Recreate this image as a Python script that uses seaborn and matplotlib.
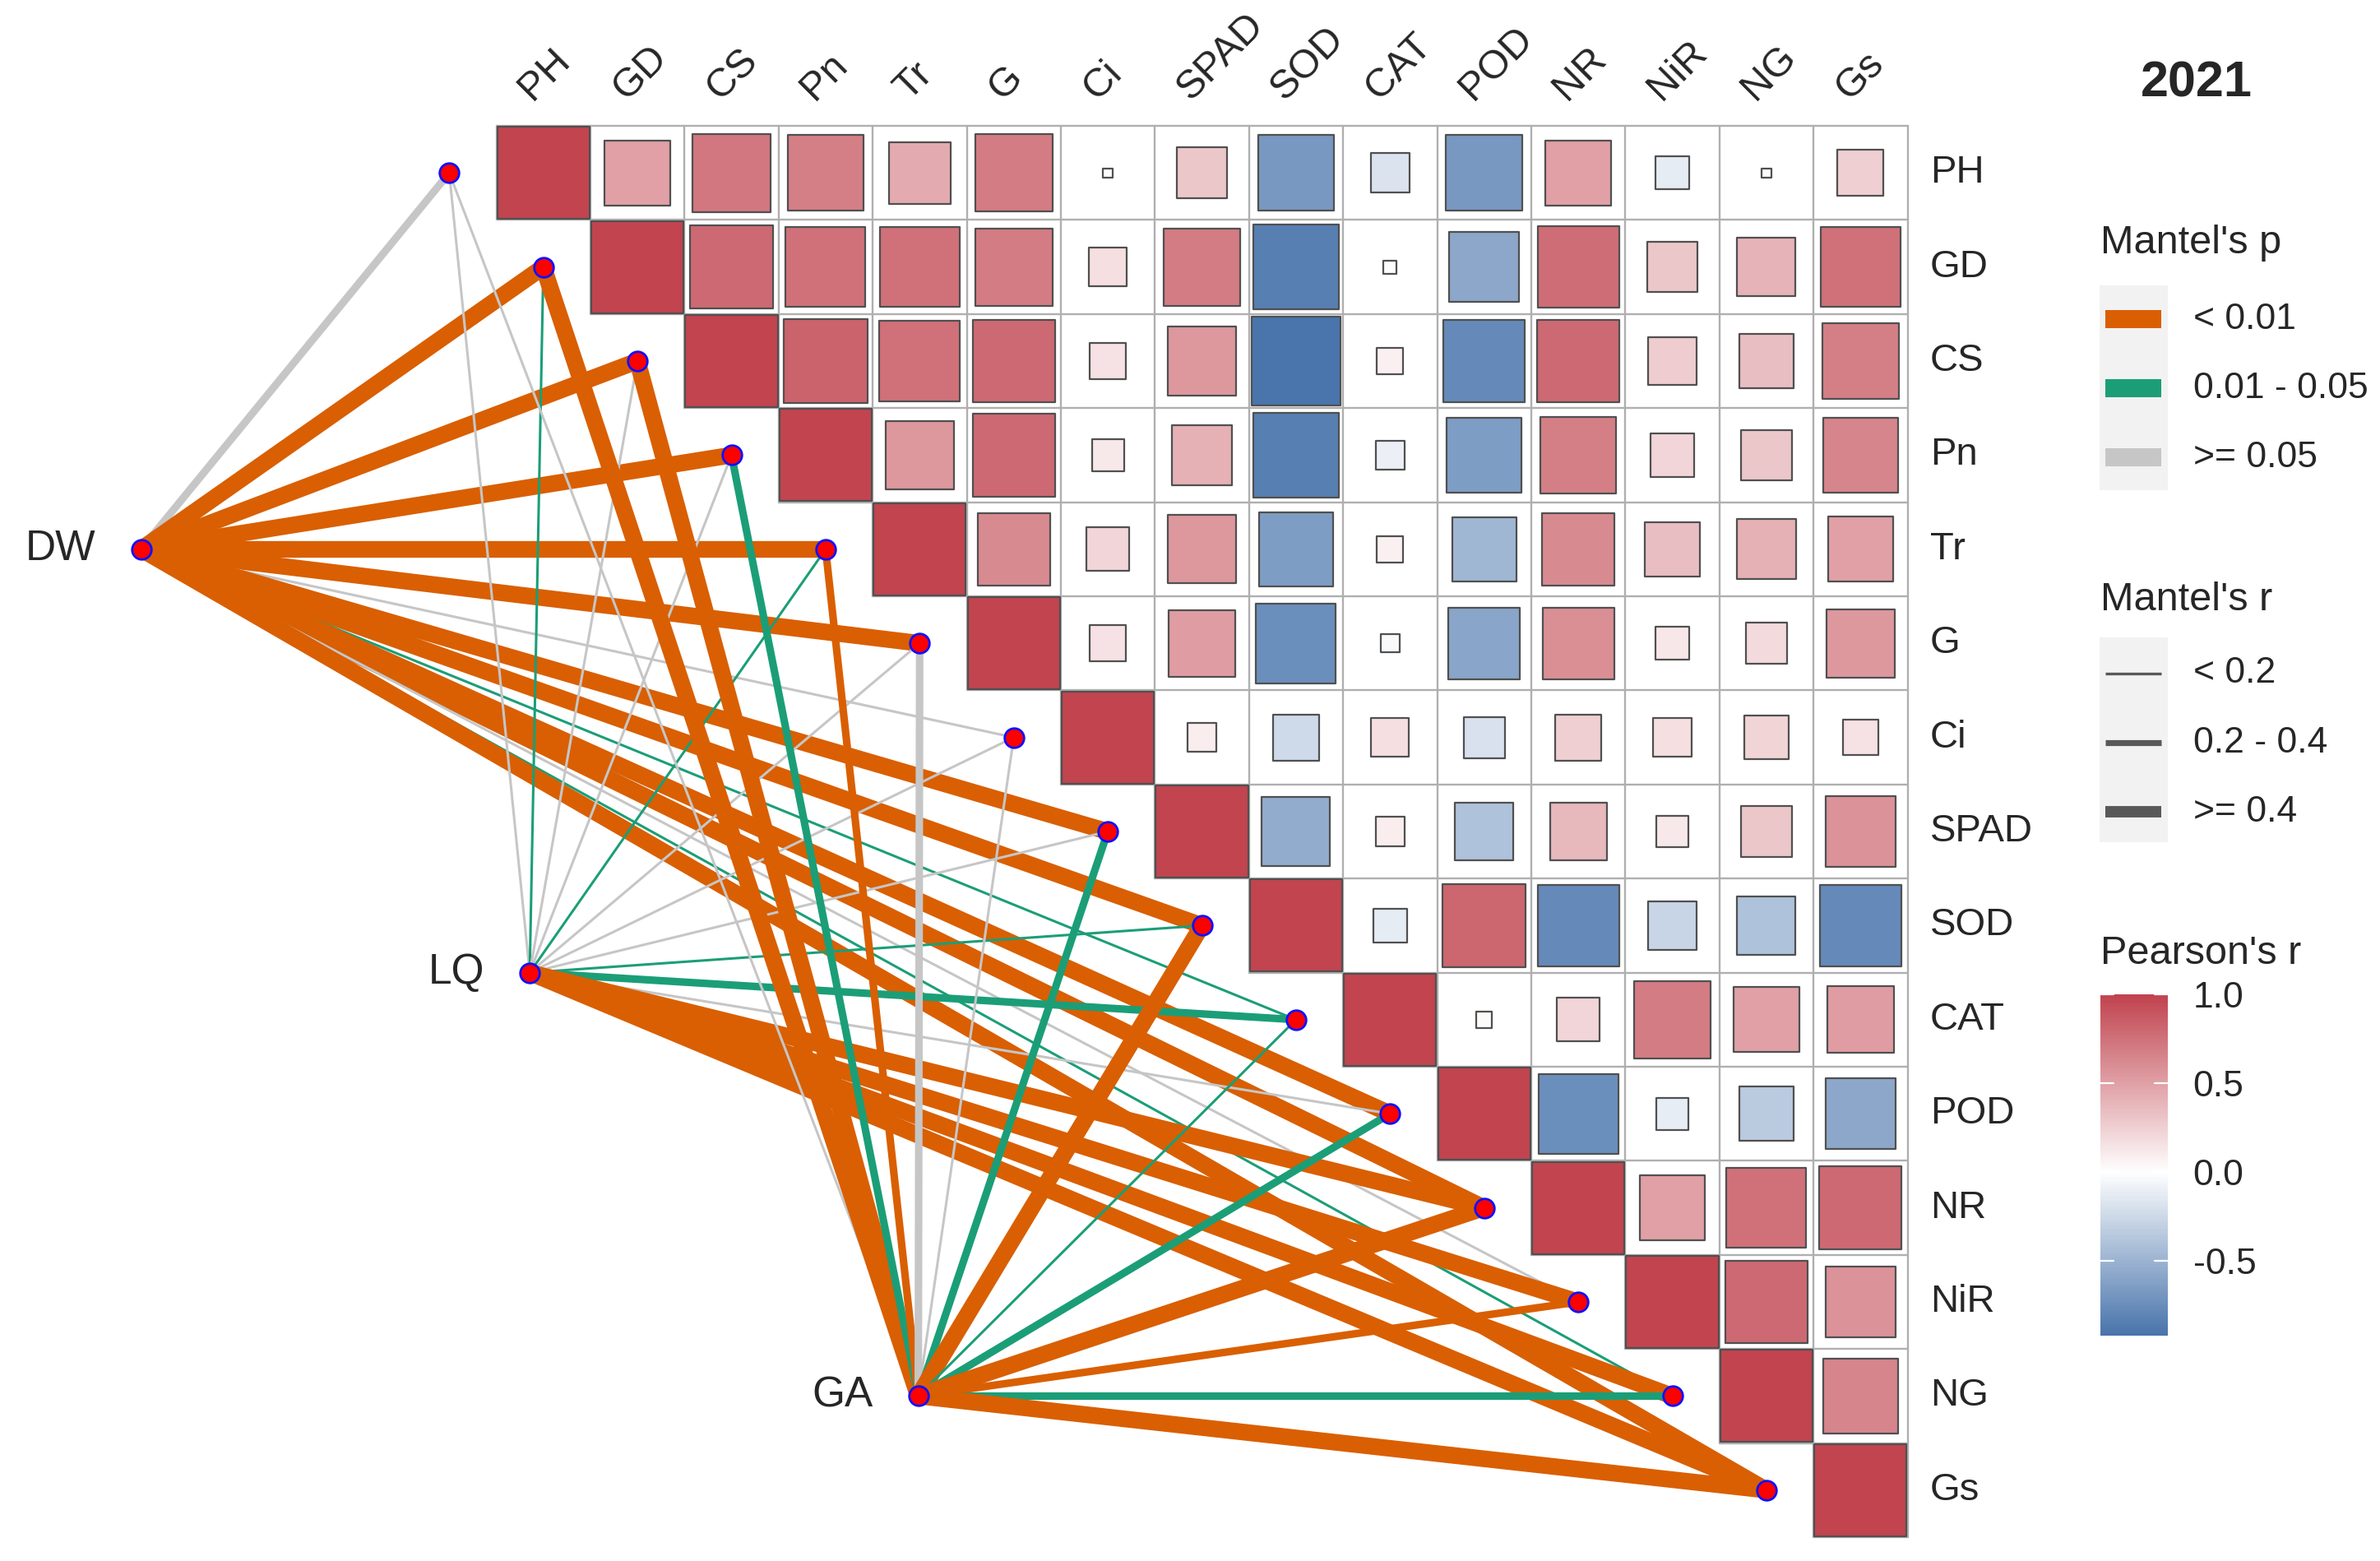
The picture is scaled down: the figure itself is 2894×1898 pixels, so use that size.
import numpy as np
import pandas as pd
import matplotlib
matplotlib.use("Agg")
import matplotlib.pyplot as plt
import seaborn as sns
from matplotlib.colors import LinearSegmentedColormap, Normalize
from matplotlib.patches import Rectangle

# ---------------- data ----------------
variables = ["PH", "GD", "CS", "Pn", "Tr", "G", "Ci", "SPAD", "SOD", "CAT",
             "POD", "NR", "NiR", "NG", "Gs"]

# Pearson's r, upper triangle, each row from the cell right of the diagonal
r_PH = [0.50, 0.72, 0.68, 0.45, 0.70, 0.01, 0.30, -0.68, -0.18, -0.68, 0.50, -0.13, 0.01, 0.25]
r_GD = [0.80, 0.75, 0.75, 0.70, 0.17, 0.70, -0.85, 0.02, -0.58, 0.78, 0.30, 0.40, 0.75]
r_CS = [0.83, 0.76, 0.80, 0.15, 0.55, -0.92, 0.08, -0.78, 0.80, 0.27, 0.35, 0.68]
r_Pn = [0.55, 0.80, 0.12, 0.42, -0.85, -0.10, -0.65, 0.68, 0.22, 0.30, 0.65]
r_Tr = [0.62, 0.22, 0.55, -0.65, 0.08, -0.48, 0.62, 0.35, 0.42, 0.50]
r_G = [0.15, 0.52, -0.75, -0.04, -0.60, 0.60, 0.13, 0.20, 0.55]
r_Ci = [0.10, -0.25, 0.17, -0.20, 0.25, 0.17, 0.23, 0.15]
r_SPAD = [-0.55, 0.10, -0.40, 0.38, 0.12, 0.30, 0.58]
r_SOD = [-0.13, 0.82, -0.78, -0.28, -0.40, -0.78]
r_CAT = [0.03, 0.22, 0.70, 0.50, 0.52]
r_POD = [-0.75, -0.12, -0.35, -0.58]
r_NR = [0.50, 0.75, 0.80]
r_NiR = [0.80, 0.58]
r_NG = [0.65]
pearson_rows = [r_PH, r_GD, r_CS, r_Pn, r_Tr, r_G, r_Ci, r_SPAD, r_SOD, r_CAT,
                r_POD, r_NR, r_NiR, r_NG, []]

sources = ["DW", "LQ", "GA"]
p_DW = [">=0.05", "<0.01", "<0.01", "<0.01", "<0.01", "<0.01", ">=0.05", "<0.01", "<0.01",
        "0.01-0.05", "<0.01", "<0.01", ">=0.05", "0.01-0.05", "<0.01"]
rr_DW = ["0.2-0.4", ">=0.4", ">=0.4", ">=0.4", ">=0.4", ">=0.4", "<0.2", ">=0.4", ">=0.4",
         "<0.2", ">=0.4", ">=0.4", "<0.2", "<0.2", ">=0.4"]
p_LQ = [">=0.05", "0.01-0.05", ">=0.05", ">=0.05", "0.01-0.05", ">=0.05", ">=0.05", ">=0.05",
        "0.01-0.05", "0.01-0.05", ">=0.05", "<0.01", "<0.01", "<0.01", "<0.01"]
rr_LQ = ["<0.2", "<0.2", "<0.2", "<0.2", "<0.2", "<0.2", "<0.2", "<0.2", "<0.2",
         "0.2-0.4", "<0.2", ">=0.4", ">=0.4", ">=0.4", ">=0.4"]
p_GA = [">=0.05", "<0.01", "<0.01", "0.01-0.05", "<0.01", ">=0.05", ">=0.05", "0.01-0.05",
        "<0.01", "0.01-0.05", "0.01-0.05", "<0.01", "<0.01", "0.01-0.05", "<0.01"]
rr_GA = ["<0.2", ">=0.4", ">=0.4", "0.2-0.4", "0.2-0.4", "0.2-0.4", "<0.2", "0.2-0.4",
         ">=0.4", "<0.2", "0.2-0.4", ">=0.4", "0.2-0.4", "0.2-0.4", ">=0.4"]
mantel_p = [p_DW, p_LQ, p_GA]
mantel_r = [rr_DW, rr_LQ, rr_GA]

p_levels = ["<0.01", "0.01-0.05", ">=0.05"]
p_labels = ["< 0.01", "0.01 - 0.05", ">= 0.05"]
r_levels = ["<0.2", "0.2-0.4", ">=0.4"]
r_labels = ["< 0.2", "0.2 - 0.4", ">= 0.4"]
cbar_ticks = [1.0, 0.5, 0.0, -0.5]
title_text = "2021"

# ---------------- style ----------------
sns.set_theme(style="white")
plt.rcParams['font.family'] = ['Liberation Sans', 'DejaVu Sans']

p_colors = {"<0.01": "#D95F02", "0.01-0.05": "#1B9E77", ">=0.05": "#C6C6C6"}
r_widths = {"<0.2": 1.1, "0.2-0.4": 3.3, ">=0.4": 7.3}
legend_r_widths = {"<0.2": 1.2, "0.2-0.4": 2.6, ">=0.4": 5.0}
cmap = LinearSegmentedColormap.from_list("rb", ["#3A69A5", "#FFFFFF", "#C1444F"])
norm = Normalize(-1, 1)

W, H, DPI = 2894, 1898, 200
fig = plt.figure(figsize=(W / DPI, H / DPI), dpi=DPI)
CELL = 114.4
X0, Y0 = 660.7, 210.2
CELL_PT = CELL * 72 / DPI
ax = fig.add_axes([0, 0, 1, 1])

n = len(variables)

# cell table
rows = []
for i in range(n):
    for j in range(i, n):
        val = 1.0 if i == j else pearson_rows[i][j - i - 1]
        rows.append({"row": i, "col": j, "r": val, "absr": abs(val)})
cells = pd.DataFrame(rows)

# grid
grid_col = "#AFAFAF"
for k in range(n + 1):
    y = k - 0.5
    xs = max(k - 1, 0) - 0.5
    ax.plot([xs, n - 0.5], [y, y], color=grid_col, lw=0.85, zorder=1)
for j in range(n + 1):
    x = j - 0.5
    ax.plot([x, x], [-0.5, min(j, n - 1) + 0.5], color=grid_col, lw=0.85, zorder=1)

sns.scatterplot(data=cells, x="col", y="row", hue="r", hue_norm=norm, palette=cmap,
                size="absr", size_norm=(0, 1), sizes=(0, (CELL_PT - 0.8) ** 2),
                marker="s", edgecolor="#505050", linewidth=0.8, legend=False,
                ax=ax, zorder=3)

# mantel links
src_pos = [(-4.275 + 4.13 * k, 4.0 + 4.5 * k) for k in range(len(sources))]
z = 5
for k, (sx, sy) in enumerate(src_pos):
    for i in range(n):
        tx, ty = i - 1, i
        ax.plot([sx, tx], [sy, ty], color=p_colors[mantel_p[k][i]],
                lw=r_widths[mantel_r[k][i]], solid_capstyle="butt", zorder=z)
        z += 0.01

# nodes
for i in range(n):
    ax.plot(i - 1, i, "o", ms=8.5, mfc="#FF0000", mec="#1010FF", mew=1.0, zorder=50)
for k, (sx, sy) in enumerate(src_pos):
    ax.plot(sx, sy, "o", ms=8.5, mfc="#FF0000", mec="#1010FF", mew=1.0, zorder=50)
    ax.text(sx - 0.48, sy, sources[k], ha="right", va="center", fontsize=18.5, zorder=51)

# labels
for j, v in enumerate(variables):
    ax.text(j - 0.12, -0.76, v, rotation=45, rotation_mode="anchor", ha="left",
            va="baseline", fontsize=17.5)
    ax.text(n - 0.5 + 0.24, j, v, ha="left", va="center", fontsize=17)

ax.set_xlim(-X0 / CELL, (W - X0) / CELL)
ax.set_ylim((H - Y0) / CELL, -Y0 / CELL)
ax.axis("off")

# ---------------- legends ----------------
lax = fig.add_axes([0, 0, 1, 1], facecolor="none")
lax.set_xlim(0, W)
lax.set_ylim(H, 0)
lax.axis("off")

lax.text(2671, 102, title_text, ha="center", va="center", fontsize=22, fontweight="bold")

lax.text(2554, 295, "Mantel's p", ha="left", va="center", fontsize=17.5)
lax.add_patch(Rectangle((2553, 347), 83, 249, color="#F2F2F2", lw=0))
for idx, (lev, lab) in enumerate(zip(p_levels, p_labels)):
    yy = 388 + 84 * idx
    lax.add_patch(Rectangle((2560, yy - 11), 68, 22, color=p_colors[lev], lw=0))
    lax.text(2667, yy, lab, ha="left", va="center", fontsize=16)

lax.text(2554, 729, "Mantel's r", ha="left", va="center", fontsize=17.5)
lax.add_patch(Rectangle((2553, 775), 83, 249, color="#F2F2F2", lw=0))
for idx, (lev, lab) in enumerate(zip(r_levels, r_labels)):
    yy = 819 + 84 * idx
    lax.plot([2560, 2628], [yy, yy], color="#595959", lw=legend_r_widths[lev],
             solid_capstyle="butt")
    lax.text(2667, yy, lab, ha="left", va="center", fontsize=16)

lax.text(2554, 1159, "Pearson's r", ha="left", va="center", fontsize=17.5)

vmin = cells["r"].min()
vmax = cells["r"].max()
cax = fig.add_axes([2554 / W, 1 - 1624 / H, 82 / W, (1624 - 1209) / H])
grad = np.linspace(vmax, vmin, 300)[:, None]
cax.imshow(grad, cmap=cmap, norm=norm, aspect="auto", extent=[0, 1, vmin, vmax])
cax.set_xlim(0, 1)
cax.set_ylim(vmin, vmax)
for t in cbar_ticks:
    cax.plot([0, 0.2], [t, t], color="white", lw=0.8)
    cax.plot([0.8, 1], [t, t], color="white", lw=0.8)
cax.set_xticks([])
cax.set_yticks(cbar_ticks)
cax.set_yticklabels([f"{t:.1f}" for t in cbar_ticks])
cax.yaxis.tick_right()
cax.tick_params(axis="y", length=0, pad=11, labelsize=16)
for s in cax.spines.values():
    s.set_visible(False)

fig.savefig("out.png", dpi=DPI)
